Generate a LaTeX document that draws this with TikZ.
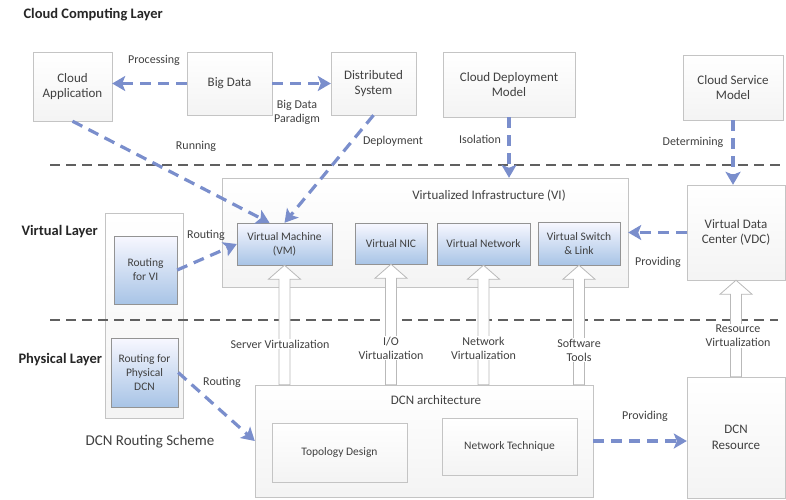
\documentclass[tikz,border=0pt]{standalone}
\usepackage{fontspec}
\setmainfont{Carlito}
\usetikzlibrary{arrows.meta,calc}

\definecolor{pfeilblau}{RGB}{122,142,204}
\definecolor{rand}{RGB}{196,196,196}
\definecolor{schrift}{RGB}{64,64,64}
\definecolor{hellblau}{RGB}{168,196,230}
\definecolor{linie}{RGB}{96,96,96}

% Hohlpfeil von Kante #1 (nur y) nach oben bis Knotenanker #2
\newcommand{\hohlpfeil}[2]{%
  \draw[hohl] let \p1=(#1), \p2=(#2) in
    (\x2-5.5pt,\y1) -- (\x2-5.5pt,\y2-14pt) -- (\x2-16pt,\y2-14pt) -- (\x2,\y2)
    -- (\x2+16pt,\y2-14pt) -- (\x2+5.5pt,\y2-14pt) -- (\x2+5.5pt,\y1) -- cycle;}

\begin{document}
\begin{tikzpicture}[
  x=1pt, y=-1pt, % Pixelraster, y nach unten
  kasten/.style={draw=rand, top color=white, bottom color=gray!9, text=schrift,
    align=center, font=\fontsize{13}{15.5}\selectfont, inner sep=2pt},
  innen/.style={draw=rand!75!black, top color=blue!3, bottom color=hellblau,
    text=schrift, align=center, font=\fontsize{11.5}{14}\selectfont, inner sep=2pt},
  beschr/.style={text=schrift, align=center, font=\fontsize{12}{14}\selectfont, inner sep=1pt},
  schicht/.style={text=black!85, font=\bfseries\fontsize{14.5}{17}\selectfont, anchor=west},
  trenn/.style={draw=linie, line width=1.6pt, dash pattern=on 10pt off 6pt},
  pfeil/.style={draw=pfeilblau, line width=3.2pt, dash pattern=on 11pt off 7pt,
    -{Stealth[length=13pt,width=15pt,inset=3pt]}},
  hohl/.style={draw=gray!55, fill=white, line width=0.8pt}
  ]
\useasboundingbox (0,0) rectangle (786,499);

% Schichten
\node[schicht] (tcloud) at (20,15) {Cloud Computing Layer};
\node[schicht] (tvirt) at (18,232) {Virtual Layer};
\node[schicht] (tphys) at (15,360) {Physical Layer};

% Cloud Computing Layer
\node[kasten, minimum width=79pt, minimum height=69pt] (capp) at (72.5,86.5) {Cloud\\Application};
\node[kasten, minimum width=85pt, minimum height=63pt] (bigdata) at (229.5,83.5) {Big Data};
\node[kasten, minimum width=85pt, minimum height=63pt] (dist) at (373.5,83.5) {Distributed\\System};
\node[kasten, minimum width=132pt, minimum height=65pt] (cdm) at (509,84.5) {Cloud Deployment\\Model};
\node[kasten, minimum width=100pt, minimum height=65pt] (csm) at (733,87.5) {Cloud Service\\Model};

% Virtual Layer
\node[kasten, minimum width=406pt, minimum height=109pt] (vi) at (425,232.5) {};
\node[beschr, font=\fontsize{13}{15.5}\selectfont] (vititel) at (489,196) {Virtualized Infrastructure (VI)};
\node[innen, minimum width=95pt, minimum height=42pt] (vm) at (284.5,244) {Virtual Machine\\(VM)};
\node[innen, minimum width=72pt, minimum height=41pt] (vnic) at (391,243.5) {Virtual NIC};
\node[innen, minimum width=93pt, minimum height=42pt] (vnet) at (483.5,244) {Virtual Network};
\node[innen, minimum width=82pt, minimum height=43pt] (vsw) at (579,243.5) {Virtual Switch\\\& Link};
\node[kasten, minimum width=98pt, minimum height=95pt] (vdc) at (736,232.5) {Virtual Data\\Center (VDC)};

% Routing
\node[kasten, minimum width=78pt, minimum height=205pt] (routing) at (144,315.5) {};
\node[innen, minimum width=63pt, minimum height=68pt] (rvi) at (145.5,270) {Routing\\for VI};
\node[innen, minimum width=67pt, minimum height=69pt] (rpdcn) at (144.5,372.5) {Routing for\\Physical\\DCN};
\node[beschr, font=\fontsize{15}{17}\selectfont] (rtitel) at (150,442) {DCN Routing Scheme};

% Physical Layer
\node[kasten, minimum width=338pt, minimum height=112pt] (dcnarch) at (424,441) {};
\node[beschr, font=\fontsize{13}{15.5}\selectfont] (archtitel) at (436,400) {DCN architecture};
\node[kasten, minimum width=135pt, minimum height=59pt, font=\fontsize{11.5}{14}\selectfont] (topo) at (339.5,452.5) {Topology Design};
\node[kasten, minimum width=135pt, minimum height=57pt, font=\fontsize{11.5}{14}\selectfont] (ntech) at (509.5,446.5) {Network Technique};
\node[kasten, minimum width=98pt, minimum height=121pt] (dcnres) at (736,437.5) {DCN\\Resource};

% Trennlinien
\draw[trenn] (50,165) -- (785,165);
\draw[trenn] (50,320) -- (778,320);

% Virtualisierung (Hohlpfeile)
\hohlpfeil{dcnarch.north}{vm.south}
\hohlpfeil{dcnarch.north}{vnic.south}
\hohlpfeil{dcnarch.north}{vnet.south}
\hohlpfeil{dcnarch.north}{vsw.south}
\hohlpfeil{dcnres.north}{vdc.south}

\node[beschr, fill=white] (lserver) at (280,344) {Server Virtualization};
\node[beschr, fill=white] (lio) at (391,348) {I/O\\Virtualization};
\node[beschr, fill=white] (lnet) at (483.5,348) {Network\\Virtualization};
\node[beschr, fill=white] (lsw) at (579,350) {Software\\Tools};
\node[beschr, fill=white] (lres) at (738,336) {Resource\\Virtualization};

% Beziehungen
\draw[pfeil] (bigdata.west) -- (bigdata.west -| capp.east);
\draw[pfeil] (bigdata.east) -- (dist.west);
\draw[pfeil] (capp.south) -- ($(vm.north)+(-15,0)$);
\draw[pfeil] (dist.south) -- (vm.north);
\draw[pfeil] (cdm.south) -- (cdm.south |- vi.north);
\draw[pfeil] (csm.south) -- (csm.south |- vdc.north);
\draw[pfeil] (vdc.west) -- (vdc.west -| vi.east);
\draw[pfeil] (rvi.east) -- (vm.west);
\draw[pfeil] (rpdcn.east) -- (dcnarch.west);
\draw[pfeil] (dcnarch.east) -- (dcnarch.east -| dcnres.west);

\node[beschr] (lproc) at (154,60) {Processing};
\node[beschr] (lpara) at (297,112) {Big Data\\Paradigm};
\node[beschr] (lrun) at (196,146) {Running};
\node[beschr] (ldepl) at (393,141) {Deployment};
\node[beschr] (liso) at (480,139) {Isolation};
\node[beschr] (ldet) at (693,142) {Determining};
\node[beschr] (lrout) at (206,235) {Routing};
\node[beschr] (lprov) at (658,262) {Providing};
\node[beschr] (lrout2) at (222,382) {Routing};
\node[beschr] (lprov2) at (645,416) {Providing};

\end{tikzpicture}
\end{document}
